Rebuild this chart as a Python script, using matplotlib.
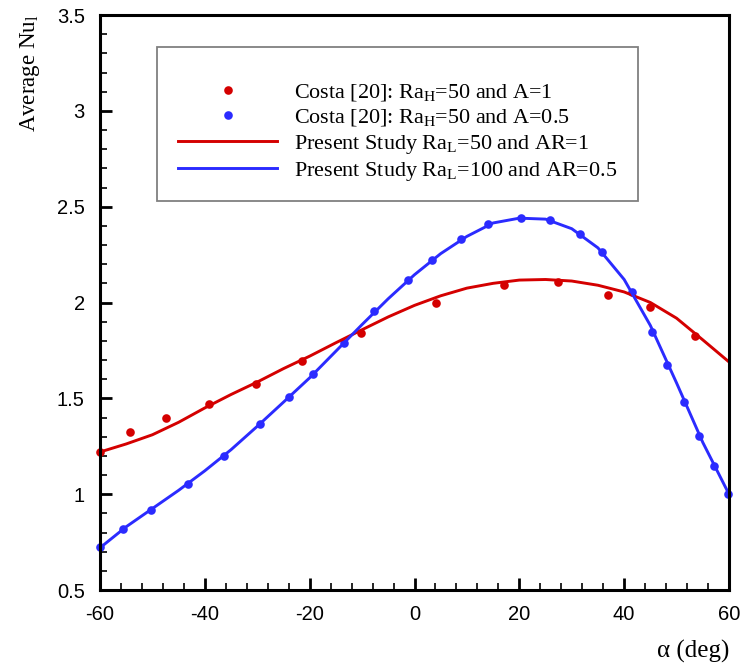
import numpy as np
import matplotlib
matplotlib.use("Agg")
import matplotlib.pyplot as plt
from matplotlib.ticker import MultipleLocator, FuncFormatter
from matplotlib.patches import Rectangle

plt.rcParams['font.family'] = ['Liberation Serif', 'DejaVu Serif']
plt.rcParams['mathtext.fontset'] = 'custom'
plt.rcParams['mathtext.rm'] = 'Liberation Serif'
plt.rcParams['mathtext.it'] = 'Liberation Serif:italic'
plt.rcParams['axes.unicode_minus'] = False

# Costa [20] reference data
costa_a1_x = [-60, -54.3, -47.4, -39.3, -30.3, -21.4, -10.2, 4.1, 17.1, 27.3, 37.0, 44.9, 53.6]
costa_a1_y = [1.22, 1.324, 1.40, 1.47, 1.576, 1.693, 1.84, 2.00, 2.089, 2.106, 2.04, 1.979, 1.823]

costa_a05_x = [-60, -55.7, -50.3, -43.2, -36.3, -29.5, -24.0, -19.3, -13.5, -7.7, -1.2, 3.3,
               8.9, 14.1, 20.4, 25.8, 31.6, 35.7, 41.4, 45.4, 48.2, 51.5, 54.3, 57.1, 59.9]
costa_a05_y = [0.726, 0.816, 0.92, 1.054, 1.20, 1.366, 1.505, 1.625, 1.788, 1.958, 2.115, 2.22,
               2.33, 2.41, 2.441, 2.43, 2.36, 2.266, 2.057, 1.847, 1.673, 1.479, 1.304, 1.147, 1.0]

# present study curves
alpha = [-60, -55, -50, -45, -40, -35, -30, -25, -20, -15, -10, -5, 0,
         5, 10, 15, 20, 25, 30, 35, 40, 45, 50, 55, 60]
nu_ar1 = [1.22, 1.262, 1.31, 1.375, 1.45, 1.52, 1.585, 1.655, 1.72, 1.79, 1.858, 1.925, 1.985,
          2.035, 2.075, 2.10, 2.117, 2.12, 2.112, 2.09, 2.055, 2.0, 1.918, 1.805, 1.69]
nu_ar05 = [0.72, 0.83, 0.925, 1.02, 1.122, 1.232, 1.354, 1.48, 1.607, 1.746, 1.885, 2.02, 2.145,
           2.255, 2.345, 2.415, 2.44, 2.435, 2.385, 2.285, 2.12, 1.88, 1.58, 1.27, 1.0]

red = '#d40000'
blue = '#2b2bff'

fig = plt.figure(figsize=(7.44, 6.68), dpi=100)
ax = fig.add_axes([100/744, 1-590/668, 629/744, 575/668])

ax.plot(costa_a1_x, costa_a1_y, 'o', color=red, ms=6.2, mec='none', clip_on=False,
        label='Costa [20]: Ra$_\\mathrm{H}$=50 and A=1')
ax.plot(costa_a05_x, costa_a05_y, 'o', color=blue, ms=6.2, mec='none', clip_on=False,
        label='Costa [20]: Ra$_\\mathrm{H}$=50 and A=0.5')
ax.plot(alpha, nu_ar1, '-', color=red, lw=2.1,
        label='Present Study Ra$_\\mathrm{L}$=50 and AR=1')
ax.plot(alpha, nu_ar05, '-', color=blue, lw=2.1,
        label='Present Study Ra$_\\mathrm{L}$=100 and AR=0.5')

ax.set_xlim(-60, 60)
ax.set_ylim(0.5, 3.5)
ax.xaxis.set_major_locator(MultipleLocator(20))
ax.xaxis.set_minor_locator(MultipleLocator(4))
ax.yaxis.set_major_locator(MultipleLocator(0.5))
ax.yaxis.set_minor_locator(MultipleLocator(0.1))
ax.yaxis.set_major_formatter(FuncFormatter(lambda v, p: f'{v:g}'))

for s in ax.spines.values():
    s.set_linewidth(2.2)
ax.tick_params(which='both', direction='in', top=False, right=False, width=1.2)
ax.tick_params(which='major', length=8.5, width=2.0)
ax.tick_params(which='minor', length=5)
ax.tick_params(axis='x', which='major', pad=11)
ax.tick_params(axis='y', which='major', pad=11)
for lab in ax.get_xticklabels() + ax.get_yticklabels():
    lab.set_fontfamily('Liberation Sans')
    lab.set_fontsize(14.5)

ax.set_xlabel('α (deg)', fontsize=18, loc='right', labelpad=11)
ax.set_ylabel('Average Nu$_\\mathrm{l}$', fontsize=16.5, loc='top')
ax.yaxis.set_label_coords(-0.093, 1.0)

# legend box drawn separately, entries placed inside
fig.patches.append(Rectangle((157/744, 1-201/668), 481/744, 154/668, transform=fig.transFigure,
                             fill=False, edgecolor='#808080', lw=1.3))
leg = ax.legend(loc='center left', bbox_to_anchor=(178/744, 1-132.5/668), bbox_transform=fig.transFigure,
                fontsize=15.9, frameon=False, handlelength=4.5, handletextpad=0.77,
                labelspacing=0.2, borderpad=0, borderaxespad=0, numpoints=1)

fig.savefig('out.png', dpi=100)
